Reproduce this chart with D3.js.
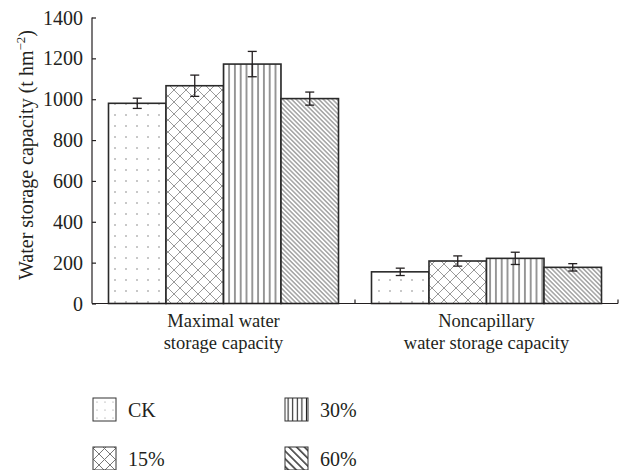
<!DOCTYPE html>
<html><head><meta charset="utf-8">
<script src="https://cdn.jsdelivr.net/npm/d3@7"></script>
<style>body{margin:0;background:#fff}svg{display:block}text{font-family:"Liberation Serif","DejaVu Serif",serif;fill:#231f20}</style>
</head><body><svg id="c" width="624" height="470"></svg>
<script>
const categories = ["Maximal water\nstorage capacity", "Noncapillary\nwater storage capacity"];
const series = ["CK", "15%", "30%", "60%"];
const values = {
  "CK":  [980, 155],
  "15%": [1066, 208],
  "30%": [1172, 221],
  "60%": [1003, 177]
};
const errors = {
  "CK":  [25, 18],
  "15%": [52, 25],
  "30%": [62, 30],
  "60%": [32, 18]
};
const yTicks = [0, 200, 400, 600, 800, 1000, 1200, 1400];

const svg = d3.select("#c");
const defs = svg.append("defs");
const ink = "#231f20";
const FS = 20;

function pat(id, w, h, transform, draw) {
  const p = defs.append("pattern").attr("id", id).attr("patternUnits", "userSpaceOnUse")
    .attr("width", w).attr("height", h);
  if (transform) p.attr("patternTransform", transform);
  p.append("rect").attr("width", w).attr("height", h).attr("fill", "#fff");
  draw(p);
}
// bar patterns
pat("p0", 11, 11, null, p => { p.append("circle").attr("cx", 5).attr("cy", 5).attr("r", 0.7).attr("fill", "#666"); });
pat("p1", 12, 12, null, p => {
  p.append("path").attr("d", "M0,0L12,12M12,0L0,12M-6,6L6,18M6,-6L18,6M-6,6L6,-6M6,18L18,6").attr("stroke", "#999").attr("stroke-width", 1);
});
pat("p2", 5.8, 10, null, p => { p.append("line").attr("x1", 2.9).attr("x2", 2.9).attr("y1", 0).attr("y2", 10).attr("stroke", "#333").attr("stroke-width", 1); });
pat("p3", 3.2, 10, "rotate(-45)", p => { p.append("line").attr("x1", 1.6).attr("x2", 1.6).attr("y1", 0).attr("y2", 10).attr("stroke", "#666").attr("stroke-width", 0.9); });
// legend patterns
pat("l0", 8, 8, null, p => { p.append("circle").attr("cx", 4).attr("cy", 4).attr("r", 0.6).attr("fill", "#888"); });
pat("l1", 11, 11, "translate(94,447)", p => {
  p.append("path").attr("d", "M0,0L11,11M11,0L0,11").attr("stroke", "#777").attr("stroke-width", 1);
});
pat("l2", 4.6, 10, "translate(286,0)", p => { p.append("line").attr("x1", 2.3).attr("x2", 2.3).attr("y1", 0).attr("y2", 10).attr("stroke", "#222").attr("stroke-width", 1.1); });
pat("l3", 5.5, 10, "rotate(-45)", p => { p.append("line").attr("x1", 2.7).attr("x2", 2.7).attr("y1", 0).attr("y2", 10).attr("stroke", "#222").attr("stroke-width", 1.4); });

const x0 = d3.scaleBand().domain(categories).range([92, 618]).padding(0);
const x1 = d3.scaleBand().domain(series).range([16.5, x0.bandwidth() - 16.5]).padding(0);
const y = d3.scaleLinear().domain([0, 1400]).range([303.5, 17.5]);
const fills = {"CK": "url(#p0)", "15%": "url(#p1)", "30%": "url(#p2)", "60%": "url(#p3)"};
const lfills = {"CK": "url(#l0)", "15%": "url(#l1)", "30%": "url(#l2)", "60%": "url(#l3)"};

const data = [];
categories.forEach((c, i) => series.forEach(s => data.push({c, s, v: values[s][i], e: errors[s][i]})));

const g = svg.append("g");
g.selectAll("rect.bar").data(data).join("rect").attr("class", "bar")
  .attr("x", d => x0(d.c) + x1(d.s)).attr("width", x1.bandwidth())
  .attr("y", d => y(d.v)).attr("height", d => y(0) - y(d.v))
  .attr("fill", d => fills[d.s]).attr("stroke", "#2a2a2a").attr("stroke-width", 1.6);

// error bars
const eb = g.selectAll("g.eb").data(data).join("g").attr("class", "eb")
  .attr("transform", d => `translate(${x0(d.c) + x1(d.s) + x1.bandwidth() / 2},0)`);
eb.append("line").attr("y1", d => y(d.v + d.e)).attr("y2", d => y(d.v - d.e)).attr("stroke", ink).attr("stroke-width", 1.3);
eb.append("line").attr("x1", -4.5).attr("x2", 4.5).attr("y1", d => y(d.v + d.e)).attr("y2", d => y(d.v + d.e)).attr("stroke", ink).attr("stroke-width", 1.3);
eb.append("line").attr("x1", -4.5).attr("x2", 4.5).attr("y1", d => y(d.v - d.e)).attr("y2", d => y(d.v - d.e)).attr("stroke", ink).attr("stroke-width", 1.3);

// y axis
const ya = svg.append("g").attr("transform", "translate(92,0)")
  .call(d3.axisLeft(y).tickValues(yTicks).tickSize(-4).tickPadding(9).tickFormat(d3.format("d")));
ya.select(".domain").attr("stroke", ink).attr("stroke-width", 1.2).attr("d", `M0,${y(1400)}V${y(0)}`);
ya.selectAll(".tick line").attr("stroke", ink).attr("stroke-width", 1.2);
ya.selectAll(".tick text").attr("font-size", FS).attr("font-family", "Liberation Serif").attr("fill", ink).attr("dy", "0.33em");

// x axis
const xa = svg.append("g").attr("transform", `translate(0,${y(0)})`);
xa.append("line").attr("x1", 92).attr("x2", 618).attr("stroke", ink).attr("stroke-width", 1.2);
xa.selectAll("line.t").data(categories).join("line").attr("class", "t")
  .attr("x1", d => x0(d) + x0.bandwidth()).attr("x2", d => x0(d) + x0.bandwidth())
  .attr("y1", 0).attr("y2", -4).attr("stroke", ink).attr("stroke-width", 1.2);
const lines = [];
categories.forEach(c => c.split("\n").forEach((t, i) => lines.push({c, t, i})));
xa.selectAll("text.cl").data(lines).join("text").attr("class", "cl")
  .attr("text-anchor", "middle").attr("font-size", 18.5)
  .attr("x", d => x0(d.c) + x0.bandwidth() / 2)
  .attr("y", d => 23.5 + d.i * 21.5).text(d => d.t);

// y title
const yt = svg.append("text").attr("transform", "translate(33,155) rotate(-90)")
  .attr("text-anchor", "middle").attr("font-size", FS);
yt.append("tspan").text("Water storage capacity (t hm");
yt.append("tspan").attr("font-size", 13).attr("dy", -8).text("−2");
yt.append("tspan").attr("dy", 8).text(")");

// legend
const legPos = {"CK": [93, 398], "15%": [93, 447], "30%": [285, 398], "60%": [285, 447]};
const lg = svg.selectAll("g.lg").data(series).join("g").attr("class", "lg")
  .attr("transform", s => `translate(${legPos[s][0]},${legPos[s][1]})`);
lg.append("rect").attr("width", 23).attr("height", 23).attr("fill", s => lfills[s]).attr("stroke", "#333").attr("stroke-width", 1);
lg.append("text").attr("x", 35).attr("y", 18.5).attr("font-size", FS).text(s => s);
</script></body></html>
